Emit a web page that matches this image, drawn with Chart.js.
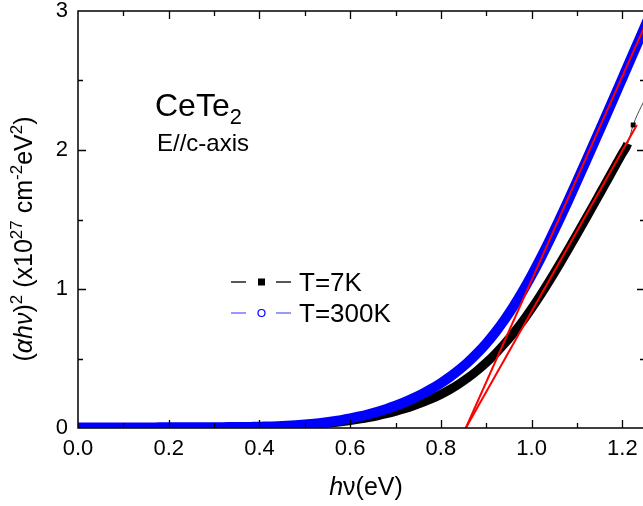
<!DOCTYPE html>
<html>
<head>
<meta charset="utf-8">
<script src="https://cdn.jsdelivr.net/npm/chart.js@4/dist/chart.umd.min.js"></script>
<style>
  html, body { margin: 0; padding: 0; background: #fff; overflow: hidden; }
  #wrap { width: 650px; height: 506px; }
</style>
</head>
<body>
<div id="wrap"><canvas id="c" width="650" height="506"></canvas></div>
<script>
// photon energy (eV)
const energy300 = [0.00,0.02,0.04,0.06,0.08,0.10,0.12,0.14,0.16,0.18,0.20,0.22,0.24,0.26,0.28,0.30,0.32,0.34,0.36,0.38,
  0.40,0.42,0.44,0.46,0.48,0.50,0.52,0.54,0.56,0.58,0.60,0.62,0.64,0.66,0.68,0.70,0.72,0.74,0.76,0.78,
  0.80,0.82,0.84,0.86,0.88,0.90,0.92,0.94,0.96,0.98,1.00,1.02,1.04,1.06,1.08,1.10,1.12,1.14,1.16,1.18,
  1.20,1.22,1.24,1.26];
// (alpha h nu)^2 at 300 K, in 1e27 cm^-2 eV^2
const t300 = [0.004,0.004,0.004,0.004,0.004,0.004,0.004,0.004,0.004,0.005,0.005,0.005,0.005,0.005,0.006,0.006,0.006,0.007,0.007,0.008,
  0.009,0.011,0.013,0.016,0.020,0.025,0.031,0.038,0.047,0.057,0.069,0.083,0.099,0.117,0.137,0.160,0.186,0.215,0.247,0.283,
  0.323,0.368,0.418,0.474,0.537,0.608,0.688,0.777,0.875,0.982,1.098,1.222,1.353,1.490,1.631,1.775,1.921,2.068,2.216,2.365,
  2.515,2.665,2.815,2.965];

const energy7 = [0.00,0.02,0.04,0.06,0.08,0.10,0.12,0.14,0.16,0.18,0.20,0.22,0.24,0.26,0.28,0.30,0.32,0.34,0.36,0.38,
  0.40,0.42,0.44,0.46,0.48,0.50,0.52,0.54,0.56,0.58,0.60,0.62,0.64,0.66,0.68,0.70,0.72,0.74,0.76,0.78,
  0.80,0.82,0.84,0.86,0.88,0.90,0.92,0.94,0.96,0.98,1.00,1.02,1.04,1.06,1.08,1.10,1.12,1.14,1.16,1.18,
  1.20,1.212,1.224,1.26];
// (alpha h nu)^2 at 7 K
const t7 = [0.003,0.003,0.003,0.003,0.003,0.003,0.003,0.003,0.003,0.003,0.003,0.003,0.004,0.004,0.004,0.004,0.004,0.005,0.005,0.005,
  0.006,0.008,0.010,0.013,0.016,0.020,0.025,0.030,0.037,0.045,0.054,0.064,0.075,0.088,0.103,0.120,0.139,0.160,0.184,0.211,
  0.242,0.277,0.317,0.362,0.413,0.470,0.534,0.605,0.683,0.767,0.860,0.958,1.062,1.170,1.281,1.394,1.509,1.625,1.742,1.859,
  1.976,2.046,2.180,2.430];
const t7DenseEnd = 61; // last index of the densely sampled 7 K data

// linear fits to the absorption edge
const fit300X = [0.855, 1.26];
const fit300Y = [0.0, 2.97];
const fit7X = [0.855, 1.232];
const fit7Y = [0.0, 2.18];

const xTickValues = [0.0, 0.2, 0.4, 0.6, 0.8, 1.0, 1.2];
const yTickValues = [0, 1, 2, 3];
const seriesNames = ['T=7K', 'T=300K'];

const FONT = '"Liberation Sans", Arial, Helvetica, sans-serif';

const pts = (xs, ys) => xs.map((x, i) => ({x: x, y: ys[i]}));

function richText(ctx, parts, x, y, size, align) {
  const fontFor = p => {
    const s = p.sup || p.sub ? size * 0.68 : size;
    return (p.i ? 'italic ' : '') + s + 'px ' + FONT;
  };
  let total = 0;
  parts.forEach(p => { ctx.font = fontFor(p); total += ctx.measureText(p.t).width; });
  let cx = align === 'center' ? x - total / 2 : x;
  ctx.textAlign = 'left';
  ctx.textBaseline = 'alphabetic';
  parts.forEach(p => {
    ctx.font = fontFor(p);
    let dy = 0;
    if (p.sup) dy = -size * 0.42;
    if (p.sub) dy = size * 0.25;
    ctx.fillText(p.t, cx, y + dy);
    cx += ctx.measureText(p.t).width;
  });
}

const framePlugin = {
  id: 'frame',
  afterDatasetsDraw(chart) {
    const {ctx, chartArea: a, scales: {x, y}} = chart;
    ctx.save();
    ctx.strokeStyle = '#000';
    ctx.lineWidth = 1.5;
    ctx.strokeRect(a.left, a.top, a.right - a.left, a.bottom - a.top);
    ctx.lineWidth = 1.3;
    ctx.beginPath();
    for (let k = 1; k <= 12; k++) {
      const px = Math.round(x.getPixelForValue(k / 10)) + 0.5;
      const len = k % 2 === 0 ? 8 : 5;
      ctx.moveTo(px, a.bottom); ctx.lineTo(px, a.bottom - len);
      ctx.moveTo(px, a.top); ctx.lineTo(px, a.top + len);
    }
    for (let k = 1; k <= 5; k++) {
      const py = Math.round(y.getPixelForValue(k / 2)) + 0.5;
      const len = k % 2 === 0 ? 8 : 5;
      ctx.moveTo(a.left, py); ctx.lineTo(a.left + len, py);
      ctx.moveTo(a.right, py); ctx.lineTo(a.right - len, py);
    }
    ctx.stroke();
    ctx.restore();
  },
  afterDraw(chart) {
    const ctx = chart.ctx;
    ctx.save();
    ctx.fillStyle = '#000';
    // sample annotation
    richText(ctx, [{t: 'CeTe'}, {t: '2', sub: true}], 155, 116, 32, 'left');
    richText(ctx, [{t: 'E//c-axis'}], 157, 151, 24, 'left');

    // legend
    const rows = [
      {y: 282, line: '#222', color: '#000', marker: 'square'},
      {y: 313, line: '#7777ff', color: '#0000ff', marker: 'circle'}
    ];
    rows.forEach((r, i) => {
      ctx.strokeStyle = r.line;
      ctx.lineWidth = 1.3;
      ctx.beginPath();
      ctx.moveTo(231, r.y); ctx.lineTo(246, r.y);
      ctx.moveTo(276, r.y); ctx.lineTo(291, r.y);
      ctx.stroke();
      if (r.marker === 'square') {
        ctx.fillStyle = r.color;
        ctx.fillRect(258, r.y - 3.5, 7, 7);
      } else {
        ctx.strokeStyle = r.color;
        ctx.lineWidth = 1.2;
        ctx.beginPath();
        ctx.arc(261.5, r.y, 3.5, 0, Math.PI * 2);
        ctx.stroke();
      }
      ctx.fillStyle = '#000';
      richText(ctx, [{t: seriesNames[i]}], 299, r.y + 9, 26, 'left');
    });

    // axis titles
    richText(ctx, [{t: 'h', i: true}, {t: '\u03bd(eV)'}], 366, 495, 25, 'center');
    ctx.translate(32, 239);
    ctx.rotate(-Math.PI / 2);
    richText(ctx, [
      {t: '('}, {t: '\u03b1h\u03bd', i: true}, {t: ')'}, {t: '2', sup: true},
      {t: ' (x10'}, {t: '27', sup: true}, {t: ' cm'}, {t: '-2', sup: true},
      {t: 'eV'}, {t: '2', sup: true}, {t: ')'}
    ], 0, 0, 25, 'center');
    ctx.restore();
  }
};

new Chart(document.getElementById('c'), {
  type: 'line',
  data: {
    datasets: [
      {
        label: 'fit 300K', data: pts(fit300X, fit300Y),
        borderColor: '#ff0000', borderWidth: 2, pointRadius: 0, order: 0, clip: 0
      },
      {
        label: 'fit 7K', data: pts(fit7X, fit7Y),
        borderColor: '#ff0000', borderWidth: 2, pointRadius: 0, order: 0, clip: 0
      },
      {
        label: seriesNames[1], data: pts(energy300, t300),
        borderColor: '#0000ff', borderWidth: 10, pointRadius: 0,
        cubicInterpolationMode: 'monotone', order: 1, clip: 0
      },
      {
        label: seriesNames[0], data: pts(energy7, t7),
        borderColor: '#000', borderWidth: 9, borderCapStyle: 'butt',
        cubicInterpolationMode: 'monotone', order: 2, clip: 0,
        pointStyle: 'rect',
        pointRadius: energy7.map((v, i) => i === t7DenseEnd + 1 ? 3.5 : 0),
        pointBackgroundColor: '#000', pointBorderWidth: 0,
        segment: {
          borderWidth: c => c.p0DataIndex >= t7DenseEnd ? 1 : 9,
          borderColor: c => c.p0DataIndex >= t7DenseEnd ? '#444' : '#000'
        }
      }
    ]
  },
  options: {
    responsive: false,
    animation: false,
    devicePixelRatio: 1,
    layout: { padding: { top: 11, right: 5, left: 0, bottom: 0 } },
    plugins: { legend: { display: false }, tooltip: { enabled: false } },
    scales: {
      x: {
        type: 'linear', min: 0, max: 1.25,
        grid: { display: false, drawTicks: false },
        border: { display: false },
        afterBuildTicks: s => { s.ticks = xTickValues.map(v => ({value: v})); },
        afterFit: s => { s.height = 78; s.paddingLeft = 0; s.paddingRight = 0; },
        ticks: {
          padding: 8, color: '#000', maxRotation: 0,
          font: { family: FONT, size: 22 },
          callback: v => v.toFixed(1)
        }
      },
      y: {
        type: 'linear', min: 0, max: 3,
        grid: { display: false, drawTicks: false },
        border: { display: false },
        afterBuildTicks: s => { s.ticks = yTickValues.map(v => ({value: v})); },
        afterFit: s => { s.width = 78; s.paddingTop = 0; s.paddingBottom = 0; },
        ticks: {
          padding: 10, color: '#000',
          font: { family: FONT, size: 22 },
          callback: v => String(v)
        }
      }
    }
  },
  plugins: [framePlugin]
});
</script>
</body>
</html>
